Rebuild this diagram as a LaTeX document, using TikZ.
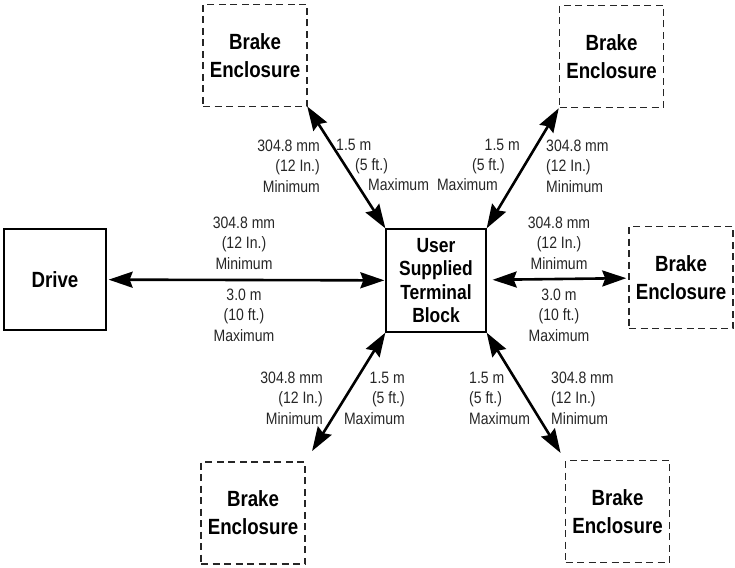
\documentclass[tikz,border=0pt]{standalone}
\usepackage{fontspec}
\setmainfont[FakeStretch=0.85]{Liberation Sans}
\usetikzlibrary{positioning,arrows.meta}

\begin{document}
\begin{tikzpicture}[x=1pt,y=-1pt,
	box/.style={draw,line width=1.3pt,minimum width=102pt,minimum height=101pt,inner sep=0pt,align=center,font=\fontsize{22}{28}\selectfont\bfseries},
	brake/.style={box,draw=black!85,line width=1.5pt,dash pattern=on 7pt off 4.5pt,minimum width=104pt,minimum height=102pt},
	dim/.style={inner sep=0pt,text=black!85,font=\fontsize{16.5}{20.5}\selectfont},
	link/.style={{Stealth[length=24pt,width=16pt,inset=3pt]}-{Stealth[length=24pt,width=16pt,inset=3pt]},line width=2.6pt}]
\useasboundingbox (0,0) rectangle (735,567);

\node[box](drv) at (55,279.5) {Drive};
\node[box,minimum width=100pt,minimum height=103pt,font=\fontsize{20.5}{23.5}\selectfont\bfseries](tb) at (436,280.5) {User\\Supplied\\Terminal\\Block};
\node[brake](b1) at (255,55.5) {Brake\\Enclosure};
\node[brake](b2) at (611.5,56.5) {Brake\\Enclosure};
\node[brake](b3) at (681,277.5) {Brake\\Enclosure};
\node[brake](b4) at (253,513) {Brake\\Enclosure};
\node[brake](b5) at (617.5,511.5) {Brake\\Enclosure};

% connectors
\draw[link,shorten <=2pt,shorten >=1pt] (drv) -- (tb);
\draw[link,shorten <=6pt,shorten >=2pt] (tb) -- (b3);
\draw[link,shorten >=-1pt] (tb.north west) -- (b1.south east);
\draw[link] (tb.north east) -- (b2.south west);
\draw[link,shorten >=12pt] (tb.south west) -- (b4.north east);
\draw[link,shorten >=8pt] (tb.south east) -- (b5.north west);

% distances
\node[dim,align=center](m0) at (244,243) {304.8 mm\\(12 In.)\\Minimum};
\node[dim,align=center](x0) at (244,315) {3.0 m\\(10 ft.)\\Maximum};
\node[dim,align=center](m3) at (559,243) {304.8 mm\\(12 In.)\\Minimum};
\node[dim,align=center](x3) at (559,315) {3.0 m\\(10 ft.)\\Maximum};

\node[dim,align=right,anchor=east](m1) at (320,166) {304.8 mm\\(12 In.)\\Minimum};
\foreach \t/\x/\y [count=\i] in {{1.5 m}/336/150,{(5 ft.)}/355/170,Maximum/368/190}
	\node[dim,anchor=base west](x1\i) at (\x,\y) {\t};
\foreach \t/\x/\y [count=\i] in {{1.5 m}/520/150,{(5 ft.)}/505/170,Maximum/498/190}
	\node[dim,anchor=base east](x2\i) at (\x,\y) {\t};
\node[dim,align=left,anchor=west](m2) at (546,166) {304.8 mm\\(12 In.)\\Minimum};

\node[dim,align=right,anchor=east](m4) at (323,398) {304.8 mm\\(12 In.)\\Minimum};
\node[dim,align=right,anchor=east](x4) at (405,398) {1.5 m\\(5 ft.)\\Maximum};
\node[dim,align=left,anchor=west](x5) at (469,398) {1.5 m\\(5 ft.)\\Maximum};
\node[dim,align=left,anchor=west](m5) at (551,398) {304.8 mm\\(12 In.)\\Minimum};

\end{tikzpicture}
\end{document}
